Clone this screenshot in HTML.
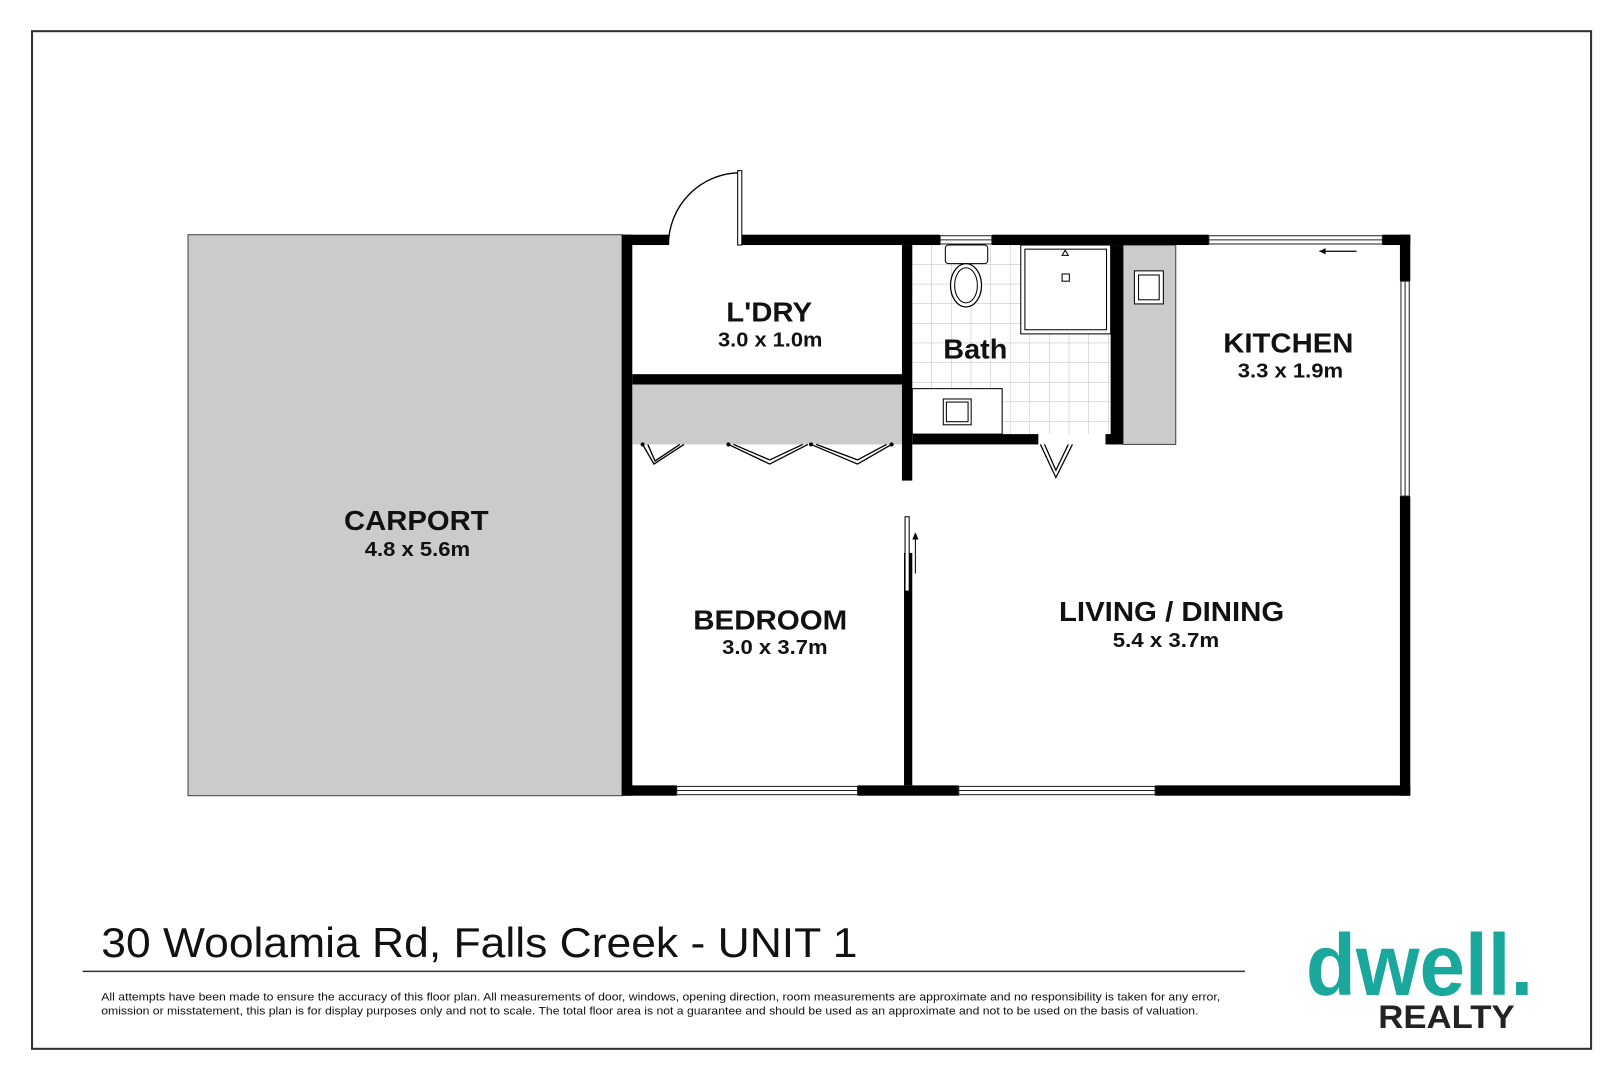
<!DOCTYPE html>
<html><head><meta charset="utf-8"><style>
html,body{margin:0;padding:0;background:#fff;}
svg{display:block;}
text{font-family:"Liberation Sans",Arial,sans-serif;}
</style></head><body>
<svg width="1620" height="1080" viewBox="0 0 1568 1045" xmlns="http://www.w3.org/2000/svg">
<defs>
<pattern id="tile" x="883" y="237" width="19" height="19" patternUnits="userSpaceOnUse">
<path d="M19 0V19H0" fill="none" stroke="#bbb" stroke-width="1"/>
</pattern>
</defs>
<rect x="0" y="0" width="1568" height="1045" fill="#fff"/>
<rect x="31" y="30" width="1509" height="985" fill="none" stroke="#333" stroke-width="2"/>

<rect x="182" y="227" width="420" height="543" fill="#cbcbcb" stroke="#444" stroke-width="1"/>

<rect x="883" y="237" width="192" height="183" fill="url(#tile)"/>
<rect x="612" y="372" width="261" height="58" fill="#cbcbcb"/>
<rect x="1087" y="237" width="51" height="193" fill="#cbcbcb" stroke="#444" stroke-width="1"/>

<g fill="#000">
<rect x="602" y="227" width="45" height="10"/>
<rect x="717" y="227" width="193" height="10"/>
<rect x="960" y="227" width="210" height="10"/>
<rect x="1338" y="227" width="27" height="10"/>
<rect x="602" y="227" width="10" height="543"/>
<rect x="602" y="760" width="53" height="10"/>
<rect x="830" y="760" width="98" height="10"/>
<rect x="1118" y="760" width="247" height="10"/>
<rect x="1355" y="227" width="10" height="45"/>
<rect x="1355" y="480" width="10" height="290"/>
<rect x="873" y="237" width="10" height="228"/>
<rect x="875" y="535" width="8" height="225"/>
<rect x="612" y="362" width="261" height="10"/>
<rect x="883" y="420" width="122" height="10"/>
<rect x="1070" y="420" width="10" height="10"/>
<rect x="1075" y="237" width="12" height="193"/>
</g>

<g fill="#fff" stroke="#222" stroke-width="1">
<rect x="910" y="228" width="50" height="8"/>
<rect x="1170" y="228" width="168" height="8"/>
<rect x="655" y="761" width="175" height="8"/>
<rect x="928" y="761" width="190" height="8"/>
<rect x="1356" y="272" width="8" height="208"/>
</g>
<line x1="1170" y1="232" x2="1338" y2="232" stroke="#222"/>
<line x1="655" y1="765" x2="830" y2="765" stroke="#222"/>
<line x1="928" y1="765" x2="1118" y2="765" stroke="#222"/>
<line x1="1360" y1="272" x2="1360" y2="480" stroke="#222"/>
<line x1="910" y1="232" x2="960" y2="232" stroke="#222"/>
<line x1="1277" y1="243" x2="1313" y2="243" stroke="#000" stroke-width="1.2"/>
<path d="M1277 243 l6 -3 v6z" fill="#000"/>

<path d="M647 237 A70 70 0 0 1 717 167" fill="none" stroke="#000" stroke-width="1.3"/>
<rect x="714" y="165" width="4" height="72" fill="#fff" stroke="#000" stroke-width="1"/>

<rect x="876" y="500" width="4" height="72" fill="#fff" stroke="#000" stroke-width="1"/>
<line x1="886" y1="555" x2="886" y2="520" stroke="#000"/>
<path d="M886 515 l-3 7 h6z" fill="#000"/>

<g fill="none" stroke="#000" stroke-width="1.3">
<path d="M622 430 L633 449 L662 430"/>
<path d="M627 430 L634 446 L658 430"/>
<path d="M705 430 L745 449 L782 430"/>
<path d="M710 430 L745 445 L777 430"/>
<path d="M785 430 L830 449 L863 430"/>
<path d="M790 430 L830 445 L858 430"/>
</g>
<g fill="#000"><circle cx="622" cy="430" r="2"/><circle cx="705" cy="430" r="2"/><circle cx="785" cy="430" r="2"/><circle cx="863" cy="430" r="2"/></g>
<path d="M1007 430 L1022 462 L1038 430 M1011 430 L1022 455 L1034 430" fill="none" stroke="#000" stroke-width="1.2"/>

<rect x="915" y="237" width="41" height="18" rx="3" fill="#fff" stroke="#000"/>
<ellipse cx="935" cy="276" rx="15" ry="21" fill="#fff" stroke="#000" stroke-width="1.2"/>
<ellipse cx="935" cy="276" rx="11" ry="17" fill="none" stroke="#000"/>
<rect x="988" y="237" width="87" height="86" fill="#fff" stroke="#000"/>
<rect x="992" y="241" width="79" height="78" fill="none" stroke="#000"/>
<rect x="1028" y="265" width="7" height="7" fill="none" stroke="#000"/>
<path d="M1031 242 l-3 5 h6z" fill="none" stroke="#000"/>
<rect x="883" y="376" width="87" height="44" fill="#fff" stroke="#000"/>
<rect x="913" y="386" width="27" height="25" fill="#fff" stroke="#000"/>
<rect x="916" y="389" width="21" height="19" fill="none" stroke="#000"/>
<rect x="1098" y="262" width="28" height="32" fill="#fff" stroke="#000"/>
<rect x="1102" y="266" width="20" height="24" fill="none" stroke="#000"/>

<g font-weight="bold" fill="#111">
<text x="333" y="513" font-size="27" textLength="140" lengthAdjust="spacingAndGlyphs">CARPORT</text>
<text x="353" y="538" font-size="20" textLength="102" lengthAdjust="spacingAndGlyphs">4.8 x 5.6m</text>
<text x="703" y="311" font-size="27" textLength="83" lengthAdjust="spacingAndGlyphs">L'DRY</text>
<text x="695" y="335" font-size="20" textLength="101" lengthAdjust="spacingAndGlyphs">3.0 x 1.0m</text>
<text x="913" y="347" font-size="27" textLength="62" lengthAdjust="spacingAndGlyphs">Bath</text>
<text x="1184" y="341" font-size="27" textLength="126" lengthAdjust="spacingAndGlyphs">KITCHEN</text>
<text x="1198" y="365" font-size="20" textLength="102" lengthAdjust="spacingAndGlyphs">3.3 x 1.9m</text>
<text x="671" y="609" font-size="27" textLength="149" lengthAdjust="spacingAndGlyphs">BEDROOM</text>
<text x="699" y="633" font-size="20" textLength="102" lengthAdjust="spacingAndGlyphs">3.0 x 3.7m</text>
<text x="1025" y="601" font-size="27" textLength="218" lengthAdjust="spacingAndGlyphs">LIVING / DINING</text>
<text x="1077" y="626" font-size="20" textLength="103" lengthAdjust="spacingAndGlyphs">5.4 x 3.7m</text>
</g>

<text x="98" y="926" font-size="40" fill="#111" textLength="732" lengthAdjust="spacingAndGlyphs">30 Woolamia Rd, Falls Creek - UNIT 1</text>
<line x1="80" y1="940" x2="1205" y2="940" stroke="#333" stroke-width="1.5"/>
<text x="98" y="968" font-size="10.5" fill="#111" textLength="1083" lengthAdjust="spacingAndGlyphs">All attempts have been made to ensure the accuracy of this floor plan. All measurements of door, windows, opening direction, room measurements are approximate and no responsibility is taken for any error,</text>
<text x="98" y="982" font-size="10.5" fill="#111" textLength="1062" lengthAdjust="spacingAndGlyphs">omission or misstatement, this plan is for display purposes only and not to scale. The total floor area is not a guarantee and should be used as an approximate and not to be used on the basis of valuation.</text>

<text x="1264" y="963" font-size="84" font-weight="bold" fill="#1aa89c" textLength="220" lengthAdjust="spacingAndGlyphs">dwell.</text>
<text x="1334" y="995" font-size="31" font-weight="bold" fill="#222" textLength="132" lengthAdjust="spacingAndGlyphs">REALTY</text>
</svg>
</body></html>
